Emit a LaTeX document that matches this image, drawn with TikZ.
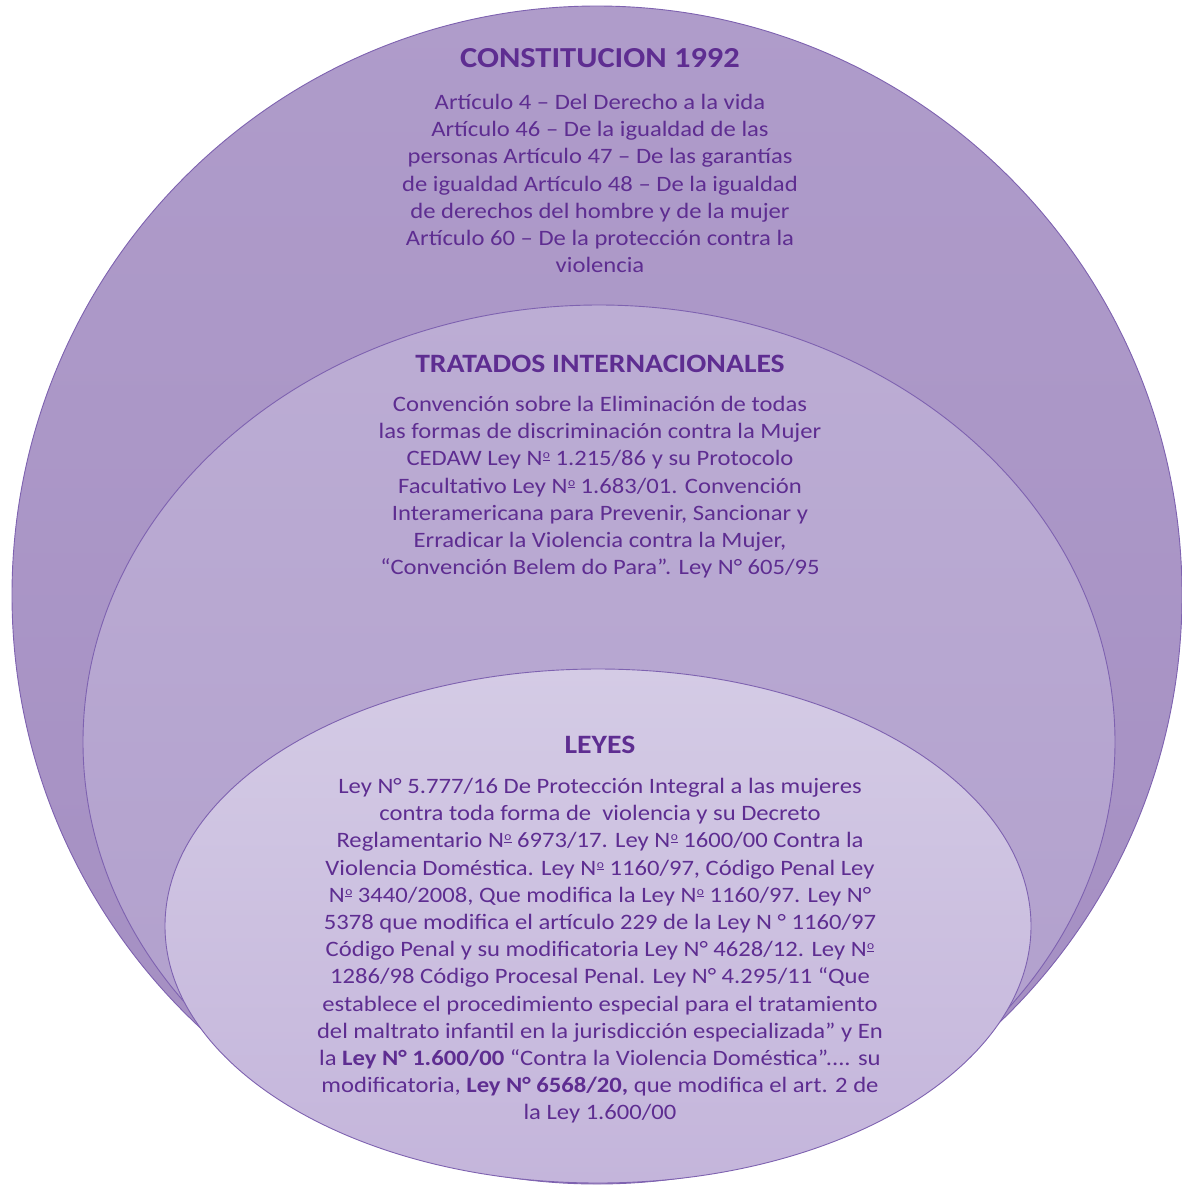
\documentclass[tikz,border=0pt]{standalone}
\usepackage{fontspec}
\setmainfont{Carlito}[FakeStretch=1.12]
\definecolor{txt}{HTML}{5E2D91}
\definecolor{rim}{HTML}{7E62B0}
\definecolor{outA}{HTML}{AF9CCA}
\definecolor{outB}{HTML}{A48EC2}
\definecolor{midA}{HTML}{BCADD4}
\definecolor{midB}{HTML}{B09ECC}
\definecolor{inA}{HTML}{D4CBE5}
\definecolor{inB}{HTML}{C4B5DB}
\newcommand\numo{N\kern0.5pt\raisebox{5.2pt}{\vbox{\hbox{\fontsize{12}{12}\selectfont o}\kern0.8pt\hrule height 0.9pt}}}
\tikzset{
  ring/.style={draw=rim, line width=0.9pt},
  title/.style={text=txt, font=\fontsize{26.5}{30}\selectfont\bfseries, inner sep=0pt},
  body/.style={text=txt, font=\fontsize{22}{27.2}\selectfont, align=center, inner sep=0pt},
}
\begin{document}
\begin{tikzpicture}[x=1pt,y=-1pt]
\useasboundingbox (0,0) rectangle (1182,1187);
% outer ellipse
\path[ring, top color=outA, bottom color=outB] (597,595) ellipse [x radius=585pt, y radius=589pt];
% middle ellipse
\path[ring, top color=midA, bottom color=midB] (599,742) ellipse [x radius=516pt, y radius=437pt];
% inner ellipse
\path[ring, top color=inA, bottom color=inB] (598,926) ellipse [x radius=433pt, y radius=257pt];

\node[title, font=\fontsize{29}{32}\selectfont\bfseries] (t1) at (600,58) {CONSTITUCION 1992};
\node[body, anchor=north] (b1) at (600,94) {Artículo 4 – Del Derecho a la vida\\
Artículo 46 – De la igualdad de las\\
personas Artículo 47 – De las garantías\\
de igualdad Artículo 48 – De la igualdad\\
de derechos del hombre y de la mujer\\
Artículo 60 – De la protección contra la\\
violencia};

\node[title] (t2) at (600,364) {TRATADOS INTERNACIONALES};
\node[body, anchor=north] (b2) at (600,396) {Convención sobre la Eliminación de todas\\
las formas de discriminación contra la Mujer\\
CEDAW Ley \numo{} 1.215/86 y su Protocolo\\
Facultativo Ley \numo{} 1.683/01. Convención\\
Interamericana para Prevenir, Sancionar y\\
Erradicar la Violencia contra la Mujer,\\
“Convención Belem do Para”. Ley N° 605/95};

\node[title] (t3) at (600,745) {LEYES};
\node[body, anchor=north] (b3) at (600,778) {Ley N° 5.777/16 De Protección Integral a las mujeres\\
contra toda forma de\ \ violencia y su Decreto\\
Reglamentario \numo{} 6973/17. Ley \numo{} 1600/00 Contra la\\
Violencia Doméstica. Ley \numo{} 1160/97, Código Penal Ley\\
\numo{} 3440/2008, Que modifica la Ley \numo{} 1160/97. Ley N°\\
5378 que modifica el artículo 229 de la Ley N ° 1160/97\\
Código Penal y su modificatoria Ley N° 4628/12. Ley \numo\\
1286/98 Código Procesal Penal. Ley N° 4.295/11 “Que\\
establece el procedimiento especial para el tratamiento\\
del maltrato infantil en la jurisdicción especializada” y En\\
la \textbf{Ley N° 1.600/00} “Contra la Violencia Doméstica”.... su\\
modificatoria, \textbf{Ley N° 6568/20,} que modifica el art. 2 de\\
la Ley 1.600/00};
\end{tikzpicture}
\end{document}
